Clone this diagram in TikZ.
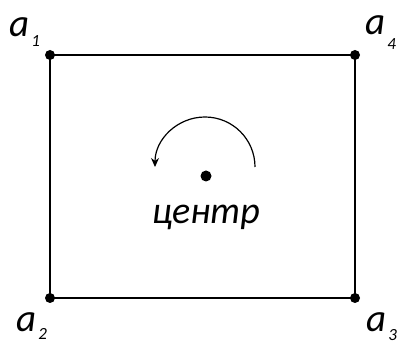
\documentclass[tikz,border=0pt]{standalone}
\usepackage{fontspec}
\setmainfont{Carlito}
\usepackage{tikz}
\usetikzlibrary{positioning,arrows.meta}

\newcommand{\vertlabel}[2]{\itshape a\hspace{2pt}\raisebox{-#2pt}{\fontsize{17}{17}\selectfont #1}}

\begin{document}
\begin{tikzpicture}[
    x=1pt, y=1pt,
    >={Stealth[length=9pt,width=8pt]},
    corner/.style={circle, fill=black, inner sep=0pt, minimum size=10pt},
    lbl/.style={inner sep=0pt, font=\fontsize{39}{39}\selectfont},
    side/.style={line width=1.8pt},
    turn/.style={->, line width=1.2pt},
]
\useasboundingbox (0,0) rectangle (401,345);
% vertices of the rectangle
\node[corner] (c1) at (50,290) {};
\node[corner] (c2) at (50,47) {};
\node[corner] (c3) at (355,47) {};
\node[corner] (c4) at (355,290) {};
\node[corner, minimum size=11pt] (mid) at (206,169) {};
\draw[side] (c1.center) -- (c4.center) -- (c3.center) -- (c2.center) -- cycle;
% vertex labels
\node[lbl, anchor=base west] (l1) at (9,308) {\vertlabel{1}{10}};
\node[lbl, anchor=base west] (l4) at (365,310) {\vertlabel{4}{15}};
\node[lbl, anchor=base west] (l2) at (16,14) {\vertlabel{2}{9}};
\node[lbl, anchor=base west] (l3) at (366,13) {\vertlabel{3}{9}};
% rotation about the centre
\coordinate (turnstart) at (255,178);
\draw[turn] (turnstart) arc (0:180:50);
\node[lbl, font=\fontsize{38}{38}\selectfont\itshape, below=23pt of mid] (ctr) {центр};
\end{tikzpicture}
\end{document}
